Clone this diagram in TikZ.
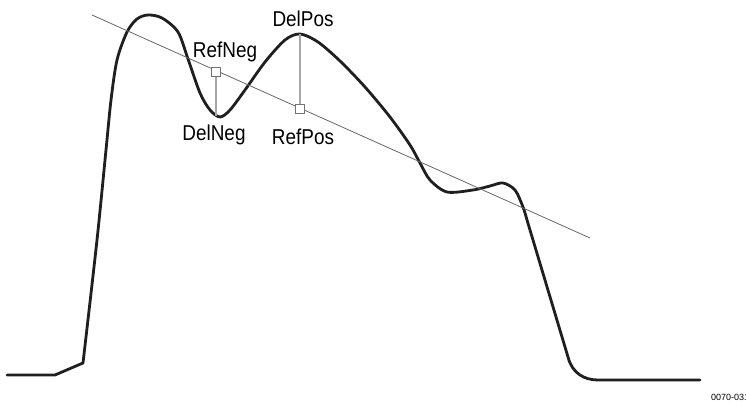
\documentclass[tikz,border=0pt]{standalone}
\usepackage{fontspec}
\setmainfont{Liberation Sans}
\newfontfamily\lblfont[FakeStretch=0.88]{Liberation Sans}
\begin{document}
\begin{tikzpicture}[x=1pt,y=-1pt,
  wave/.style={line width=2.8pt, color=black!88, line join=round, line cap=round},
  regline/.style={line width=0.8pt, color=black!60},
  vline/.style={line width=1.2pt, color=black!35},
  refbox/.style={draw=black!55, fill=white, line width=0.8pt, minimum size=8.5pt, inner sep=0pt},
  lbl/.style={font=\lblfont\fontsize{21.5}{25}\selectfont, inner sep=0pt, anchor=base},
  tag/.style={font=\fontsize{9}{11}\selectfont, inner sep=0pt, anchor=base west}]
\useasboundingbox (0,0) rectangle (746,406);
\clip (0,0) rectangle (746,406);
% waveform
\draw[wave] (7,375) -- (55,375) -- (83,363)
  -- plot[smooth, tension=0.5] coordinates {(83,363) (97,240) (106,150) (111,100) (117,60) (127,32) (137,19) (148,15) (162,18) (178,32) (188,59) (200,93) (210,110) (220,117) (230,110) (245,90) (265,62) (285,40) (300,34) (318,42) (340,61) (365,87) (390,117) (410,145) (420,163) (430,180) (447,192) (473,190) (490,186) (503,183) (515,190) (523,207) (527,220)}
  -- (568,357) .. controls (572,373) and (584,380) .. (598,380) -- (700,380);
% regression line
\coordinate (ls) at (92,15);
\coordinate (le) at (590,238);
\draw[regline] (ls) -- (le);
% reference points
\coordinate (dn) at (216,116);
\coordinate (dp) at (300,34);
\node[refbox] (rn) at (216,72) {};
\node[refbox] (rp) at (300,109) {};
\draw[vline] (rn.south) -- (dn);
\draw[vline] (rp.north) -- (dp);
% labels
\node[lbl] (tdp) at (303,27) {DelPos};
\node[lbl] (trn) at (225,58) {RefNeg};
\node[lbl] (tdn) at (214,141) {DelNeg};
\node[lbl] (trp) at (303,145) {RefPos};
\node[tag] (code) at (711,400) {0070-031};
\end{tikzpicture}
\end{document}
